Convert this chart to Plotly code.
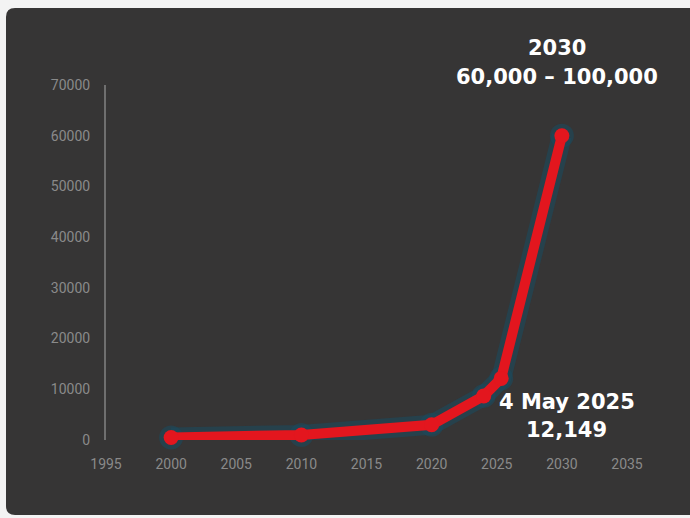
import plotly.graph_objects as go

years = [2000, 2010, 2020, 2024, 2025.34, 2030]
values = [500, 1000, 3000, 8700, 12149, 60000]
x_ticks = [1995, 2000, 2005, 2010, 2015, 2020, 2025, 2030, 2035]
y_ticks = [0, 10000, 20000, 30000, 40000, 50000, 60000, 70000]

W, H = 690, 518
L, R, T, B = 106, 63, 85, 78
pw, ph = W - L - R, H - T - B

def px(x):
    return (x - L) / pw

def py(y):
    return 1 - (y - T) / ph

# rounded card path (pixel -> paper)
x0, y0, x1, y1, r = 6, 8, 700, 515, 9
pts = [
    ("M", x0 + r, y0), ("L", x1 - r, y0), ("Q", x1, y0, x1, y0 + r),
    ("L", x1, y1 - r), ("Q", x1, y1, x1 - r, y1), ("L", x0 + r, y1),
    ("Q", x0, y1, x0, y1 - r), ("L", x0, y0 + r), ("Q", x0, y0, x0 + r, y0),
]
path = ""
for p in pts:
    if p[0] == "Q":
        path += f"Q {px(p[1]):.5f},{py(p[2]):.5f} {px(p[3]):.5f},{py(p[4]):.5f} "
    else:
        path += f"{p[0]} {px(p[1]):.5f},{py(p[2]):.5f} "
path += "Z"

fig = go.Figure()
fig.add_trace(go.Scatter(
    x=years, y=values, mode="lines+markers",
    line=dict(color="rgba(25,75,95,0.55)", width=20),
    marker=dict(size=24, color="rgba(25,75,95,0.55)"),
    hoverinfo="skip", showlegend=False, cliponaxis=False,
))
fig.add_trace(go.Scatter(
    x=years, y=values, mode="lines+markers",
    line=dict(color="#e3161e", width=10),
    marker=dict(size=15, color="#e3161e"),
    showlegend=False, cliponaxis=False,
))

tick_font = dict(family="Roboto, sans-serif", size=14, color="#8a8a8a")
ann_font = dict(family="DejaVu Sans, sans-serif", size=21, color="white")

def ann(text, x, y):
    return dict(text=f"<b>{text}</b>", x=px(x), y=py(y), xref="paper", yref="paper",
                xanchor="center", yanchor="middle", align="center",
                showarrow=False, font=ann_font)

fig.update_layout(
    width=W, height=H,
    margin=dict(l=L, r=R, t=T, b=B),
    paper_bgcolor="#f3f3f3",
    plot_bgcolor="rgba(0,0,0,0)",
    shapes=[dict(type="path", path=path, xref="paper", yref="paper",
                 fillcolor="#363535", line=dict(width=0), layer="below")],
    xaxis=dict(range=[1995, 2035], tickvals=x_ticks, ticktext=[str(t) for t in x_ticks],
               showgrid=False, zeroline=False, showline=False,
               ticks="outside", ticklen=11, tickcolor="rgba(0,0,0,0)",
               tickfont=tick_font),
    yaxis=dict(range=[0, 70000], tickvals=y_ticks, ticktext=[str(t) for t in y_ticks],
               showgrid=False, zeroline=False, showline=True, linecolor="#6f6f6f", linewidth=2,
               ticks="outside", ticklen=11, tickcolor="rgba(0,0,0,0)",
               tickfont=tick_font),
    annotations=[
        ann("2030", 557, 48),
        ann("60,000 – 100,000", 557, 77),
        ann("4 May 2025", 567, 402),
        ann("12,149", 566, 430),
    ],
)

fig.write_html("out.html")
